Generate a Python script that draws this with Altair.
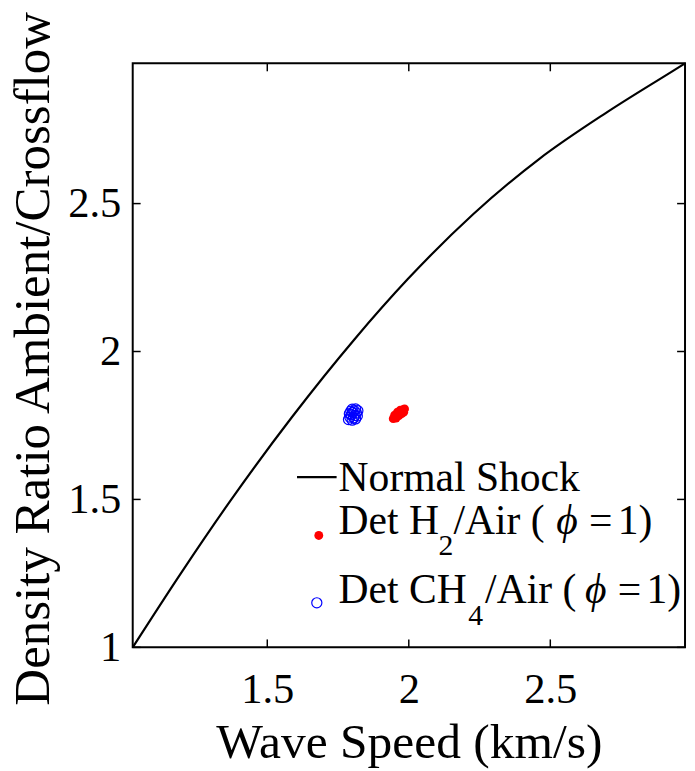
import altair as alt
import pandas as pd

# ---- data ----
shock_speed = [1.0245, 1.1993, 1.3706, 1.5874, 1.8077, 1.9965, 2.2273, 2.4615, 2.6958, 2.9266, 2.976]
shock_ratio = [1.000, 1.257, 1.4968, 1.7786, 2.0408, 2.2447, 2.464, 2.6514, 2.806, 2.9445, 2.974]

h2_speed = [1.945, 1.950, 1.955, 1.960, 1.965, 1.970, 1.975, 1.980, 1.985, 1.955, 1.965, 1.975, 1.982, 1.950, 1.960, 1.970]
h2_ratio = [1.773, 1.778, 1.783, 1.788, 1.792, 1.796, 1.800, 1.803, 1.806, 1.775, 1.783, 1.790, 1.795, 1.785, 1.795, 1.802]

ch4_speed = [1.787, 1.792, 1.797, 1.802, 1.807, 1.812, 1.800, 1.805, 1.810, 1.815, 1.820, 1.790, 1.795, 1.800, 1.812, 1.818]
ch4_ratio = [1.770, 1.778, 1.786, 1.794, 1.800, 1.806, 1.768, 1.776, 1.784, 1.792, 1.800, 1.790, 1.798, 1.805, 1.772, 1.782]

x_ticks = [1.5, 2.0, 2.5]
y_ticks = [1.0, 1.5, 2.0, 2.5]
x_domain = [1.0245, 2.976]
y_domain = [1.0, 2.974]

x_title = "Wave Speed (km/s)"
y_title = "Density Ratio Ambient/Crossflow"
legend_shock = "Normal Shock"
legend_h2 = ["Det H", "2", "/Air (", "\u03d5", "=", "1)"]
legend_ch4 = ["Det CH", "4", "/Air (", "\u03d5", "=", "1)"]

# ---- layout ----
W, H = 558, 590
FONT = "Liberation Serif"
TICK = 8
LFS = 42  # legend font size

shock_df = pd.DataFrame({"speed": shock_speed, "ratio": shock_ratio})
h2_df = pd.DataFrame({"speed": h2_speed, "ratio": h2_ratio})
ch4_df = pd.DataFrame({"speed": ch4_speed, "ratio": ch4_ratio})
xt_df = pd.DataFrame({"speed": x_ticks})
yt_df = pd.DataFrame({"ratio": y_ticks})
one = pd.DataFrame({"k": [0]})

xs = alt.Scale(domain=x_domain, nice=False, zero=False)
ys = alt.Scale(domain=y_domain, nice=False, zero=False)

x_axis = alt.Axis(values=x_ticks, format="~g", domain=False, ticks=False, grid=False,
                  labelFont=FONT, labelFontSize=43, labelColor="black", labelPadding=22,
                  labelFlush=False, title=x_title, titleFont=FONT, titleFontSize=50,
                  titleFontWeight="normal", titleColor="black", titlePadding=6)
y_axis = alt.Axis(values=y_ticks, format="~g", domain=False, ticks=False, grid=False,
                  labelFont=FONT, labelFontSize=43, labelColor="black", labelPadding=12,
                  labelFlush=False, title=y_title, titleFont=FONT, titleFontSize=51.5,
                  titleFontWeight="normal", titleColor="black", titlePadding=8, titleY=298)

X = lambda: alt.X("speed:Q", scale=xs, axis=x_axis)
Y = lambda: alt.Y("ratio:Q", scale=ys, axis=y_axis)

line = alt.Chart(shock_df).mark_line(color="black", strokeWidth=2.2, interpolate="monotone").encode(x=X(), y=Y())
h2 = alt.Chart(h2_df).mark_circle(color="#ff0000", size=80, opacity=1).encode(x=X(), y=Y())
ch4 = alt.Chart(ch4_df).mark_point(shape="circle", filled=False, color="#0000ff", size=105,
                                   strokeWidth=1.2, opacity=1).encode(x=X(), y=Y())

tb = alt.Chart(xt_df).mark_rule(color="black", strokeWidth=1.5).encode(x=X(), y=alt.value(H), y2=alt.value(H - TICK))
tt = alt.Chart(xt_df).mark_rule(color="black", strokeWidth=1.5).encode(x=X(), y=alt.value(0), y2=alt.value(TICK))
tl = alt.Chart(yt_df).mark_rule(color="black", strokeWidth=1.5).encode(y=Y(), x=alt.value(0), x2=alt.value(TICK))
tr = alt.Chart(yt_df).mark_rule(color="black", strokeWidth=1.5).encode(y=Y(), x=alt.value(W), x2=alt.value(W - TICK))

# ---- legend ----
def txt(s, x, y, size=LFS, style="normal"):
    return alt.Chart(one).mark_text(text=s, font=FONT, fontSize=size, fontStyle=style, color="black",
                                    align="left", baseline="alphabetic").encode(x=alt.value(x), y=alt.value(y))

lg_line = alt.Chart(one).mark_rule(color="black", strokeWidth=2.2).encode(
    x=alt.value(166), x2=alt.value(206), y=alt.value(418))
lg_dot = alt.Chart(one).mark_circle(color="#ff0000", size=80, opacity=1).encode(x=alt.value(188), y=alt.value(477))
lg_circ = alt.Chart(one).mark_point(shape="circle", filled=False, color="#0000ff", size=105,
                                    strokeWidth=1.2, opacity=1).encode(x=alt.value(186), y=alt.value(545))

legend_layers = [lg_line, lg_dot, lg_circ, txt(legend_shock, 208, 432)]
for row, base, sub_x, off_a, off in ((legend_h2, 475, 309, 0, 0), (legend_ch4, 545, 339, 32, 29)):
    legend_layers += [
        txt(row[0], 208, base),
        txt(row[1], sub_x, base + 22, size=30),
        txt(row[2], 324 + off_a, base),
        txt(row[3], 428 + off, base, style="italic"),
        txt(row[4], 461 + off, base),
        txt(row[5], 490 + off, base),
    ]

chart = alt.layer(line, h2, ch4, tb, tt, tl, tr, *legend_layers).properties(
    width=W, height=H,
    autosize=alt.AutoSizeParams(type="none"),
    padding={"left": 126, "top": 52, "right": 2, "bottom": 121},
    background="white",
).configure_view(stroke="black", strokeWidth=2).configure_axis(grid=False)

chart.save("out.html", embed_options={"renderer": "svg", "actions": False})
